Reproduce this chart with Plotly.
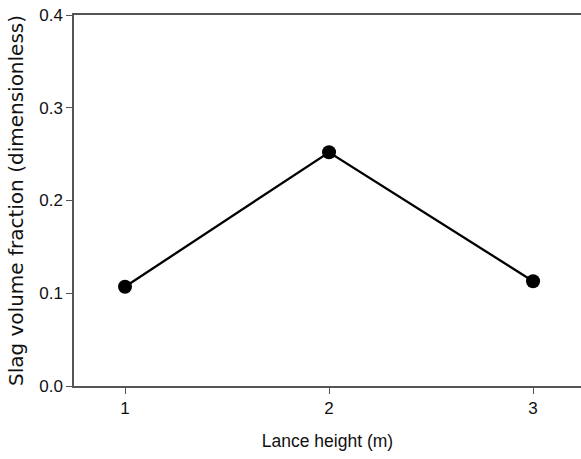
import plotly.graph_objects as go

# Lance height (m) vs. slag volume fraction
lance_height = [1, 2, 3]
slag_fraction = [0.107, 0.252, 0.113]
x_ticks = [1, 2, 3]
y_ticks = [0.0, 0.1, 0.2, 0.3, 0.4]
y_tick_text = ["0.0", "0.1", "0.2", "0.3", "0.4"]

fig = go.Figure()
fig.add_trace(go.Scatter(
    x=lance_height, y=slag_fraction, mode="lines+markers",
    line=dict(color="black", width=2.3),
    marker=dict(color="black", size=14),
    showlegend=False,
))

sans = "Liberation Sans, Arial, sans-serif"
fig.update_layout(
    width=581, height=459,
    margin=dict(l=74, r=0, t=15, b=73),
    paper_bgcolor="white", plot_bgcolor="white",
    font=dict(family=sans, size=17, color="#111"),
    xaxis=dict(
        range=[0.75, 3.235], tickvals=x_ticks, ticktext=[str(v) for v in x_ticks],
        showgrid=False, zeroline=False, showline=True, linecolor="#555", linewidth=1.5,
        ticks="outside", ticklen=6, tickcolor="#555", tickwidth=1.2, mirror=True,
        tickfont=dict(family=sans, size=17),
        title=dict(text="Lance height (m)", standoff=18,
                   font=dict(family=sans, size=17.5)),
    ),
    yaxis=dict(
        range=[0, 0.4], tickvals=y_ticks, ticktext=y_tick_text,
        showgrid=False, zeroline=False, showline=True, linecolor="#555", linewidth=1.5,
        ticks="outside", ticklen=6, tickcolor="#555", tickwidth=1.2, mirror=False,
        tickfont=dict(family=sans, size=17),
        title=dict(text="Slag volume fraction (dimensionless)", standoff=10,
                   font=dict(family="DejaVu Sans, sans-serif", size=20)),
    ),
)
fig.write_html("out.html")
